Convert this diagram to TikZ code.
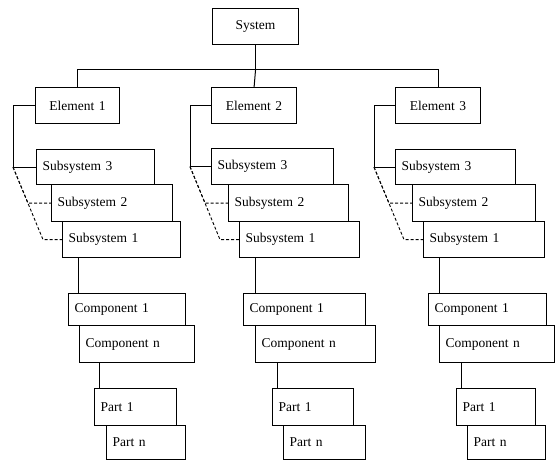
\documentclass[tikz,border=0pt]{standalone}
\usepackage{fontspec}
\setmainfont{Liberation Serif}
\usetikzlibrary{calc}
\tikzset{
  bx/.style={draw=black, line width=1.2pt, fill=white, rectangle, inner xsep=6pt, inner ysep=0pt,
             font=\fontsize{13.5}{15}\selectfont, align=left},
  cbx/.style={bx, align=center},
  ln/.style={draw=black, line width=1pt},
  dl/.style={draw=black, line width=0.9pt, dash pattern=on 3pt off 2pt}
}
\newcommand\mkbox[7]{%
  \pgfmathsetmacro\bw{#5-#3}\pgfmathsetmacro\bh{#6-#4}\pgfmathsetmacro\tw{#5-#3-12}%
  \node[#1, minimum width=\bw pt, minimum height=\bh pt, text width=\tw pt, anchor=north west] (#2) at (#3,#4) {#7};}
\begin{document}
\begin{tikzpicture}[x=1pt,y=-1pt]
\useasboundingbox (0,0) rectangle (555,461);
% top levels
\mkbox{cbx}{sys}{212}{8}{298}{44}{System}
\mkbox{cbx}{e1}{35}{87}{119}{123}{Element 1}
\mkbox{cbx}{e2}{211}{87}{296}{123}{Element 2}
\mkbox{cbx}{e3}{395}{87}{480}{123}{Element 3}
% column 1
\mkbox{bx}{s13}{36}{149}{154}{184}{Subsystem 3}
\mkbox{bx}{s12}{51}{184}{172}{221}{Subsystem 2}
\mkbox{bx}{s11}{62}{221}{180}{257}{Subsystem 1}
\mkbox{bx}{c11}{68}{293}{185}{325}{Component 1}
\mkbox{bx}{c1n}{79}{325}{194}{362}{Component n}
\mkbox{bx}{p11}{94}{388}{176}{425}{Part 1}
\mkbox{bx}{p1n}{106}{425}{185}{459}{Part n}
% column 2
\mkbox{bx}{s23}{211}{148}{333}{184}{Subsystem 3}
\mkbox{bx}{s22}{228}{184}{348}{221}{Subsystem 2}
\mkbox{bx}{s21}{239}{221}{359}{257}{Subsystem 1}
\mkbox{bx}{c21}{243}{293}{365}{325}{Component 1}
\mkbox{bx}{c2n}{255}{325}{375}{362}{Component n}
\mkbox{bx}{p21}{272}{388}{353}{425}{Part 1}
\mkbox{bx}{p2n}{283}{425}{365}{459}{Part n}
% column 3
\mkbox{bx}{s33}{395}{149}{515}{184}{Subsystem 3}
\mkbox{bx}{s32}{412}{184}{535}{221}{Subsystem 2}
\mkbox{bx}{s31}{423}{221}{544}{257}{Subsystem 1}
\mkbox{bx}{c31}{428}{293}{546}{325}{Component 1}
\mkbox{bx}{c3n}{439}{325}{554}{362}{Component n}
\mkbox{bx}{p31}{456}{388}{535}{425}{Part 1}
\mkbox{bx}{p3n}{467}{425}{545}{459}{Part n}
% bus
\draw[ln] (sys.south) -- ++(0,24) coordinate (bus);
\draw[ln] (e1.north) |- (bus) -| (e3.north);
\draw[ln] (bus) -- (e2.north);
% element -> subsystems
\foreach \e/\a/\b/\c/\d in {e1/s13/s12/s11/22, e2/s23/s22/s21/21, e3/s33/s32/s31/21}{
  \draw[ln] (\e.west) -- ++(-\d,0) coordinate (v\e) |- (\a.west);
  \coordinate (k\e) at (v\e |- \a.west);
  \draw[dl] (k\e) -- ($(\b.west)+(-23,0)$) -- (\b.west);
  \draw[dl] (k\e) -- ($(\c.west)+(-19,0)$) -- (\c.west);
}
% subsystem 1 -> component 1, component n -> part 1
\foreach \s/\c/\n/\p in {s11/c11/c1n/p11, s21/c21/c2n/p21, s31/c31/c3n/p31}{
  \coordinate (a\s) at ($(\s.south west)+(16,0)$);
  \draw[ln] (a\s) -- (a\s |- \c.north);
  \coordinate (b\s) at ($(\p.north west)+(5,0)$);
  \draw[ln] (b\s |- \n.south) -- (b\s);
}
\end{tikzpicture}
\end{document}
